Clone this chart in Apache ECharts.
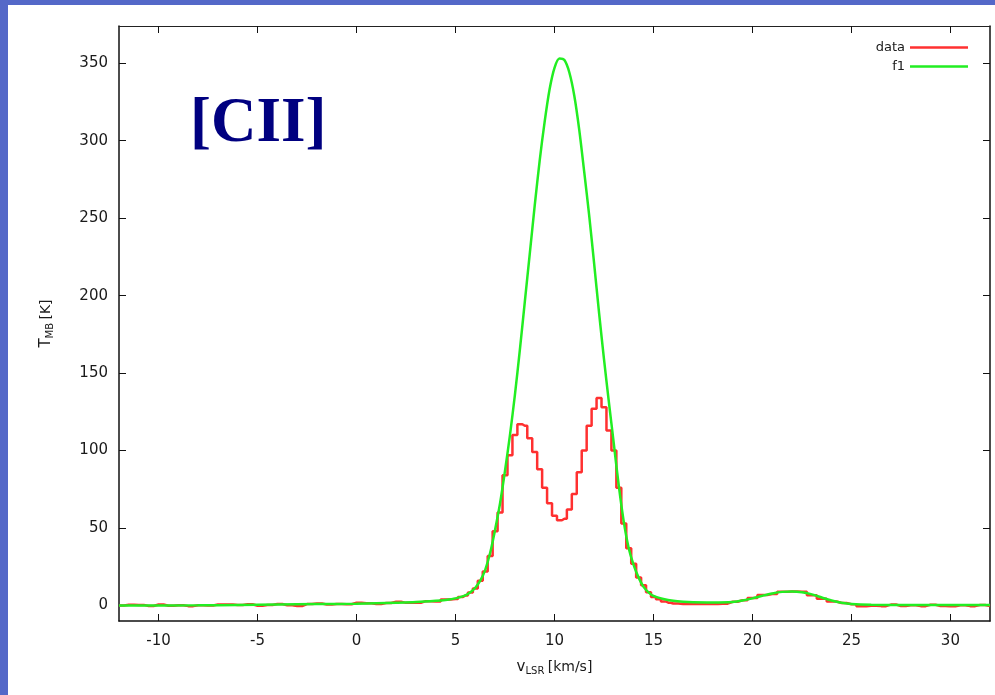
<!DOCTYPE html>
<html>
<head>
<meta charset="utf-8">
<script src="https://cdn.jsdelivr.net/npm/echarts@6/dist/echarts.min.js"></script>
<style>
  html, body { margin: 0; padding: 0; width: 995px; height: 695px; background: #5468c8; overflow: hidden; }
  #main { position: absolute; left: 8px; top: 5px; width: 987px; height: 690px; background: #fff; }
</style>
</head>
<body>
<div id="main"></div>
<script>
// 速度轴 (km/s) 与刻度
var xTicks = [-10, -5, 0, 5, 10, 15, 20, 25, 30];
var yTicks = [0, 50, 100, 150, 200, 250, 300, 350];

// 观测数据 (data)
var dataV = [-12, -11.5, -11, -10.5, -10, -9.5, -9, -8.5, -8, -7.5, -7, -6.5, -6, -5.5, -5, -4.5, -4, -3.5, -3, -2.5,
  -2, -1.5, -1, -0.5, 0, 0.5, 1, 1.5, 2, 2.5, 3, 3.5, 4, 4.5, 5, 5.25, 5.5, 5.75, 6, 6.25,
  6.5, 6.75, 7, 7.25, 7.5, 7.75, 8, 8.25, 8.5, 8.75, 9, 9.25, 9.5, 9.75, 10, 10.25, 10.5, 10.75, 11, 11.25,
  11.5, 11.75, 12, 12.25, 12.5, 12.75, 13, 13.25, 13.5, 13.75, 14, 14.25, 14.5, 14.75, 15, 15.25, 15.5, 15.75, 16, 16.5,
  17, 17.5, 18, 18.5, 19, 19.5, 20, 20.5, 21, 21.5, 22, 22.5, 23, 23.5, 24, 24.5, 25, 25.5, 26, 26.5,
  27, 27.5, 28, 28.5, 29, 29.5, 30, 30.5, 31, 31.5, 32];
var dataT = [0, 0.5, 0.4, -0.3, 0.6, -0.2, 0.1, -0.4, 0.2, 0, 0.6, 0.7, 0.3, 0.8, -0.2, 0.3, 1.0, 0.2, -0.3, 0.9,
  1.3, 0.6, 1.0, 0.8, 1.8, 1.5, 1.0, 1.6, 2.4, 1.7, 1.8, 2.8, 2.6, 3.9, 4.2, 5.5, 6.5, 8.4, 11, 16,
  22, 32, 48, 60, 84, 97, 110, 117, 116, 108, 99, 88, 76, 66, 58, 55, 56, 62, 72, 86,
  100, 116, 127, 134, 128, 113, 100, 76, 53, 37, 27, 18, 13, 8.5, 5.5, 4, 2.6, 1.8, 1.3, 1.0,
  0.9, 1.0, 1.0, 1.2, 2.4, 3.4, 4.8, 6.8, 7.4, 8.9, 9.0, 8.8, 6.6, 4.4, 2.6, 1.6, 0.8, -0.5, -0.2, -0.4,
  0.6, -0.3, 0.1, -0.4, 0.5, -0.3, -0.5, 0.2, -0.4, 0.3, -0.3];

// 拟合曲线 (f1)
var fitV = [-12, -8, -6, -4, -2, 0, 2, 3, 4, 4.5, 5, 5.5, 5.75, 6, 6.25, 6.5, 6.75, 7, 7.25, 7.5, 7.75, 8,
  8.25, 8.5, 8.75, 9, 9.25, 9.5, 9.75, 10, 10.25, 10.5, 10.75, 11, 11.25, 11.5, 11.75, 12, 12.25, 12.5, 12.75, 13,
  13.25, 13.5, 13.75, 14, 14.25, 14.5, 14.75, 15, 15.5, 16, 16.5, 17, 18, 19, 19.5, 20, 20.5, 21, 21.5, 22,
  22.5, 23, 23.5, 24, 24.5, 25, 26, 28, 32];
var fitT = [0, 0.1, 0.3, 0.6, 0.9, 1.2, 1.8, 2.2, 3.0, 3.6, 4.6, 6.5, 8.5, 11.5, 16, 23, 34, 49, 66, 87, 110, 136,
  165, 196, 227, 258, 287, 312, 333, 347, 353, 352, 344, 329, 307, 280, 252, 221, 189, 159, 131, 104,
  77, 54, 37, 26, 18, 12, 8.5, 6.2, 4.2, 3.0, 2.4, 2.1, 2.0, 2.3, 3.2, 4.6, 6.3, 7.8, 8.8, 9.1,
  8.6, 7.2, 5.2, 3.2, 1.8, 1.0, 0.5, 0.3, 0.3];

function pairs(xs, ys) {
  var out = [];
  for (var i = 0; i < xs.length; i++) out.push([xs[i], ys[i]]);
  return out;
}

var txt = '#1a1a1a';
var fam = 'DejaVu Sans';

var myChart = echarts.init(document.getElementById('main'));
myChart.setOption({
  animation: false,
  grid: { left: 111, right: 5, top: 21, bottom: 74 },
  legend: {
    orient: 'vertical',
    right: 22,
    top: 31,
    align: 'right',
    icon: 'rect',
    itemWidth: 58,
    itemHeight: 2.5,
    itemGap: 6,
    textStyle: { color: txt, fontSize: 13, fontFamily: fam },
    data: ['data', 'f1']
  },
  xAxis: [{
    type: 'value', min: -12, max: 32,
    axisLine: { show: true, onZero: false, lineStyle: { color: '#111', width: 1.5 } },
    axisTick: { show: true, inside: true, length: 7, customValues: xTicks, lineStyle: { color: '#111' } },
    axisLabel: { customValues: xTicks, margin: 13, color: txt, fontSize: 15, fontFamily: fam },
    splitLine: { show: false },
    name: '{v|v}{s|LSR} {u|[km/s]}',
    nameLocation: 'middle',
    nameGap: 38,
    nameTextStyle: {
      rich: {
        v: { fontSize: 15, color: txt, fontFamily: fam },
        s: { fontSize: 10, color: txt, fontFamily: fam, verticalAlign: 'bottom', padding: [7, 0, 0, 0] },
        u: { fontSize: 14, color: txt, fontFamily: fam }
      }
    }
  }, {
    type: 'value', min: -12, max: 32, position: 'top',
    axisLine: { show: true, onZero: false, lineStyle: { color: '#222', width: 1 } },
    axisTick: { show: true, inside: true, length: 7, customValues: xTicks, lineStyle: { color: '#111' } },
    axisLabel: { show: false },
    splitLine: { show: false }
  }],
  yAxis: [{
    type: 'value', min: -10, max: 374,
    axisLine: { show: true, onZero: false, lineStyle: { color: '#111', width: 1.5 } },
    axisTick: { show: true, inside: true, length: 7, customValues: yTicks, lineStyle: { color: '#111' } },
    axisLabel: { customValues: yTicks, margin: 11, color: txt, fontSize: 15, fontFamily: fam },
    splitLine: { show: false },
    name: '{t|T}{s|MB} {u|[K]}',
    nameLocation: 'middle',
    nameGap: 64,
    nameRotate: 90,
    nameTextStyle: {
      rich: {
        t: { fontSize: 15, color: txt, fontFamily: fam },
        s: { fontSize: 10, color: txt, fontFamily: fam, verticalAlign: 'bottom', padding: [7, 0, 0, 0] },
        u: { fontSize: 14, color: txt, fontFamily: fam }
      }
    }
  }, {
    type: 'value', min: -10, max: 374, position: 'right',
    axisLine: { show: true, onZero: false, lineStyle: { color: '#111', width: 1.5 } },
    axisTick: { show: true, inside: true, length: 7, customValues: yTicks, lineStyle: { color: '#111' } },
    axisLabel: { show: false },
    splitLine: { show: false }
  }],
  graphic: [{
    type: 'text',
    left: 182,
    top: 88,
    style: {
      text: '[CII]',
      fill: '#000080',
      font: 'bold 63px "Liberation Serif", "DejaVu Serif", serif'
    }
  }],
  series: [{
    name: 'data',
    type: 'line',
    step: 'middle',
    showSymbol: false,
    symbol: 'none',
    color: '#ff3030',
    lineStyle: { color: '#ff3030', width: 2.5 },
    data: pairs(dataV, dataT),
    z: 2
  }, {
    name: 'f1',
    type: 'line',
    smooth: 0.3,
    showSymbol: false,
    symbol: 'none',
    color: '#22ee22',
    lineStyle: { color: '#22ee22', width: 2.5 },
    data: pairs(fitV, fitT),
    z: 3
  }]
});
</script>
</body>
</html>
